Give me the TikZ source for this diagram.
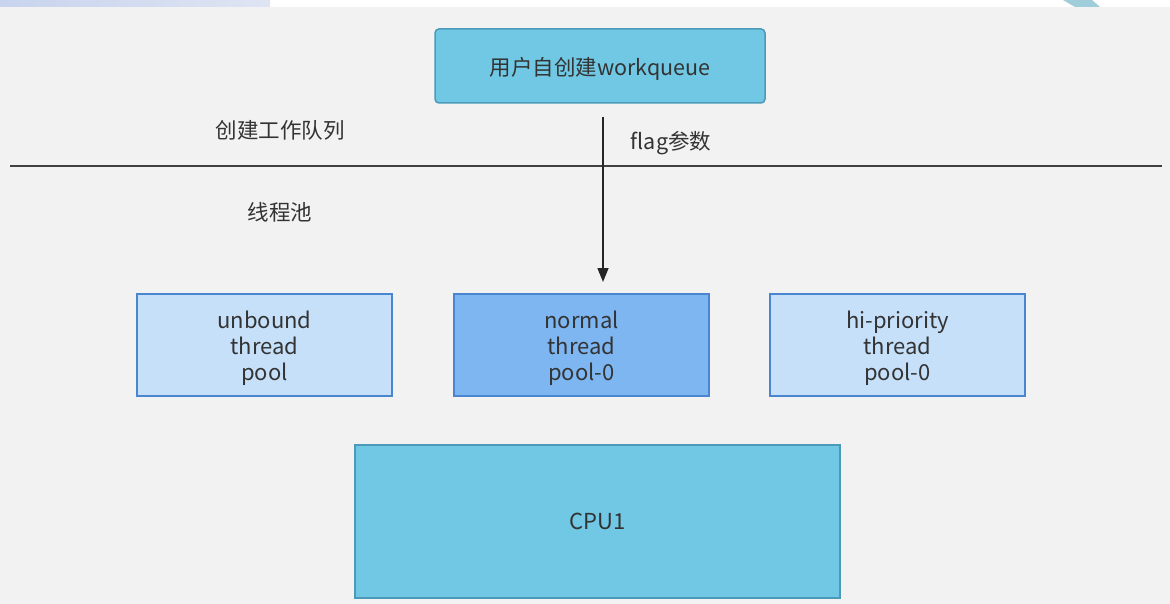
\documentclass[tikz,border=0pt]{standalone}
\usepackage{fontspec}
\setmainfont{Noto Sans CJK SC}
\usetikzlibrary{arrows.meta}
\definecolor{bg}{HTML}{F2F2F2}
\definecolor{cyanfill}{HTML}{70C8E4}
\definecolor{cyanline}{HTML}{4A9AB8}
\definecolor{lightfill}{HTML}{C6E0FA}
\definecolor{bluefill}{HTML}{7EB6F2}
\definecolor{blueline}{HTML}{4A86D0}
\definecolor{txt}{HTML}{333333}
\definecolor{topl}{HTML}{C8D4EE}
\definecolor{topr}{HTML}{DEE4F2}
\definecolor{slant}{HTML}{A0CDDA}
\begin{document}
\begin{tikzpicture}[x=1pt,y=-1pt,
  box/.style={draw, line width=1.5pt, inner sep=0pt, align=center, text=txt,
    font=\fontsize{22}{26}\selectfont},
  pool/.style={draw=blueline, line width=1.5pt, minimum width=255pt, minimum height=102pt},
  pooltxt/.style={text=txt, align=center, inner sep=0pt, yshift=-3pt,
    font=\fontsize{22}{26}\selectfont},
  lbl/.style={text=txt, font=\fontsize{21.5}{26}\selectfont, inner sep=0pt}]
\useasboundingbox (0,0) rectangle (1170,604);
\fill[white] (0,0) rectangle (1170,7);
\fill[bg] (0,7) rectangle (1170,604);
\shade[left color=topl, right color=topr] (0,0) rectangle (270,7);
\fill[slant] (1063,0) -- (1092,0) -- (1100,7) -- (1075,7) -- cycle;

\node[box, fill=cyanfill, draw=cyanline, rounded corners=4pt, minimum width=330pt, minimum height=74pt,
  label={[pooltxt, yshift=0pt, font=\fontsize{21.5}{26}\selectfont]center:{用户自创建workqueue}}] (wq) at (600,66) {};
\node[lbl] (l1) at (280,130) {创建工作队列};
\node[lbl] (l2) at (671,143) {flag参数};
\node[lbl] (l3) at (280,212) {线程池};
\coordinate (hl) at (10,166);
\coordinate (hr) at (1162,166);
\draw[line width=1.5pt, black!75] (hl) -- (hr);

\node[pool, fill=lightfill, label={[pooltxt]center:{unbound\\thread\\pool}}] (ub) at (264.5,345) {};
\node[pool, fill=bluefill, label={[pooltxt]center:{normal\\thread\\pool-0}}] (np) at (581.5,345) {};
\node[pool, fill=lightfill, label={[pooltxt]center:{hi-priority\\thread\\pool-0}}] (hp) at (897.5,345) {};
\node[box, fill=cyanfill, draw=cyanline, minimum width=485pt, minimum height=153pt] (cpu) at (597.5,521.5) {CPU1};

\coordinate (as) at (603,117);
\coordinate (ae) at (603,282);
\draw[line width=1.5pt, black!85, -{Triangle[length=14pt, width=11pt]}] (as) -- (ae);
\end{tikzpicture}
\end{document}
